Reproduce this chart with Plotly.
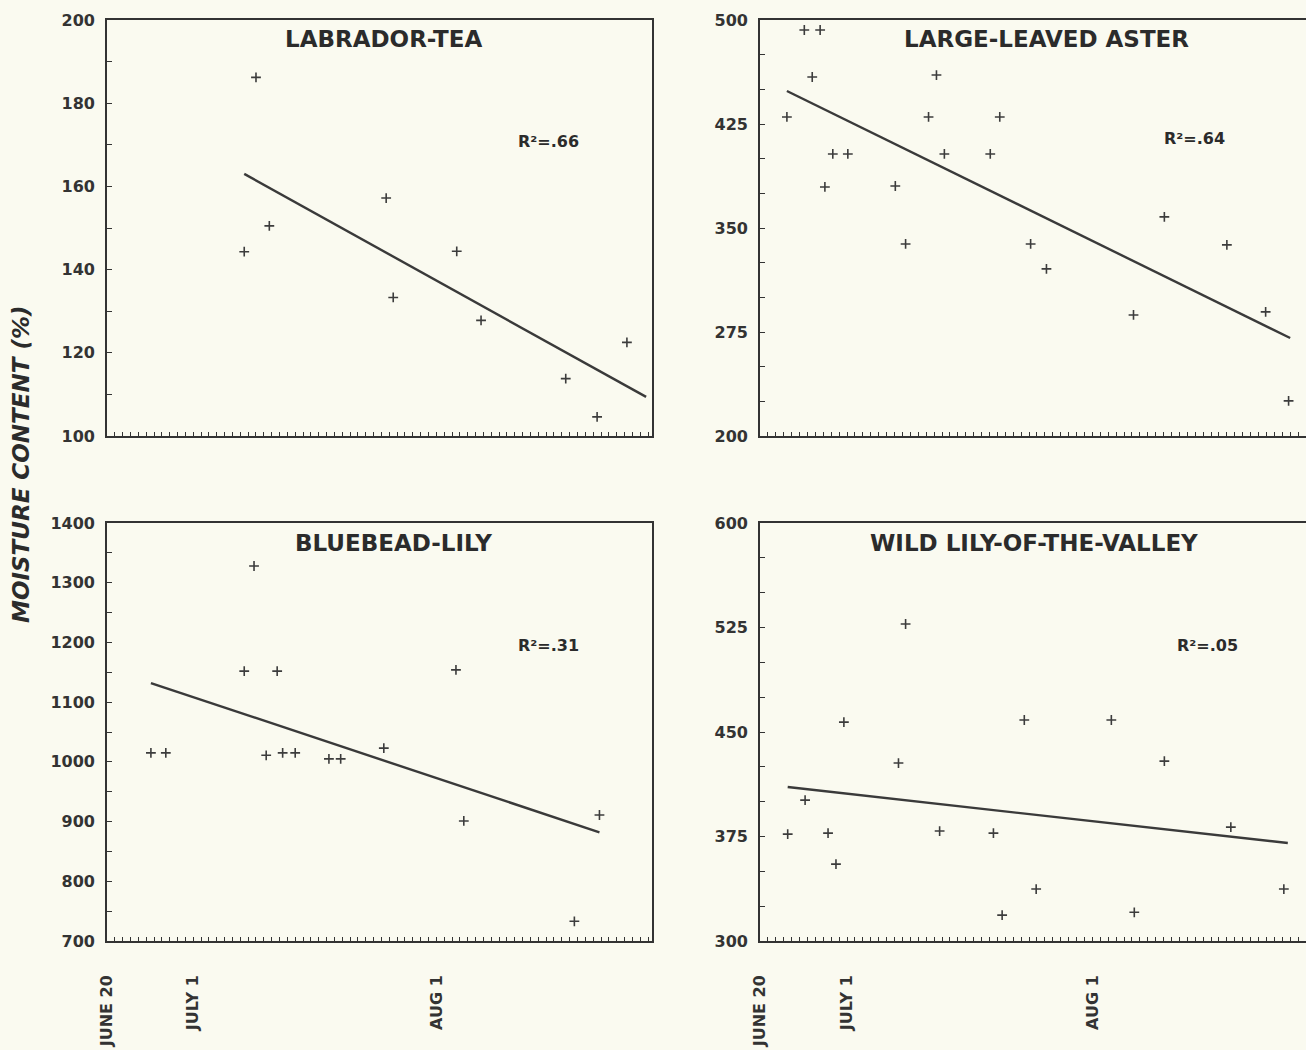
import plotly.graph_objects as go

# Days counted from June 20 (0 = June 20, 11 = July 1, 42 = Aug 1)
tick_days = [0, 11, 42]
tick_names = ["JUNE 20", "JULY 1", "AUG 1"]

species = ["LABRADOR-TEA", "LARGE-LEAVED ASTER", "BLUEBEAD-LILY", "WILD LILY-OF-THE-VALLEY"]
r_squared = ["R²=.66", "R²=.64", "R²=.31", "R²=.05"]

labrador_days = [17.5, 19.0, 20.7, 35.6, 36.5, 44.6, 47.7, 58.5, 62.5, 66.3]
labrador_moisture = [144.3, 186.2, 150.5, 157.2, 133.3, 144.4, 127.8, 113.8, 104.6, 122.5]
labrador_fit_days = [17.5, 68.75]
labrador_fit_moisture = [163.0, 109.4]

aster_days = [3.4, 5.6, 7.6, 6.6, 8.2, 9.2, 11.1, 17.1, 18.4, 21.3, 22.3, 23.3,
              29.1, 30.3, 34.2, 36.2, 47.2, 51.1, 59.0, 63.9, 66.8]
aster_moisture = [430.1, 492.8, 492.8, 458.9, 379.6, 403.4, 403.4, 380.3, 338.5, 430.1, 460.3, 403.4,
                  403.4, 430.1, 338.5, 320.5, 287.3, 358.0, 337.8, 289.5, 225.3]
aster_fit_days = [3.4, 67.0]
aster_fit_moisture = [448.8, 270.7]

bluebead_days = [5.6, 7.5, 17.5, 18.75, 21.7, 20.3, 22.4, 24.0, 28.3, 29.8, 35.3, 44.5, 45.5, 59.6, 62.8]
bluebead_moisture = [1015, 1015, 1152, 1328, 1152, 1011, 1015, 1015, 1005, 1005, 1023, 1154, 901, 733, 911]
bluebead_fit_days = [5.6, 62.8]
bluebead_fit_moisture = [1132, 882]

lily_days = [3.5, 5.7, 8.6, 9.6, 10.6, 17.5, 18.4, 22.7, 29.5, 30.6, 33.4, 34.9,
             44.4, 47.3, 51.1, 59.5, 66.2]
lily_moisture = [376.7, 401.1, 377.4, 355.2, 457.1, 427.7, 527.5, 378.9, 377.4, 318.6, 458.6, 337.3,
                 458.6, 320.6, 429.1, 381.7, 337.3]
lily_fit_days = [3.5, 66.7]
lily_fit_moisture = [410.5, 370.3]

y_ranges = [[100, 200], [200, 500], [700, 1400], [300, 600]]
y_major = [20, 75, 100, 75]
y_minor = [10, 25, 50, 25]

panels = [
    (labrador_days, labrador_moisture, labrador_fit_days, labrador_fit_moisture),
    (aster_days, aster_moisture, aster_fit_days, aster_fit_moisture),
    (bluebead_days, bluebead_moisture, bluebead_fit_days, bluebead_fit_moisture),
    (lily_days, lily_moisture, lily_fit_days, lily_fit_moisture),
]

W, H = 1306, 1050
INK = "#333333"
BG = "#fafaf0"
FONT = "DejaVu Sans"

# panel boxes in pixels: (left, right, top, bottom)
boxes = [(107, 652, 20, 436), (760, 1306, 20, 436), (107, 652, 523, 941), (760, 1306, 523, 941)]
x_ranges = [[0, 69.5], [0, 69.0], [0, 69.5], [0, 69.0]]
title_pos = [(0.508, 0.955), (0.5256, 0.955), (0.526, 0.952), (0.502, 0.952)]
r2_pos = [(0.811, 0.709), (0.796, 0.714), (0.811, 0.708), (0.8205, 0.708)]

fig = go.Figure()
annotations = []

for i, (days, moist, fdays, fmoist) in enumerate(panels):
    n = "" if i == 0 else str(i + 1)
    xa, ya = "x" + n, "y" + n
    left, right, top, bottom = boxes[i]

    fig.add_trace(go.Scatter(
        x=fdays, y=fmoist, mode="lines", xaxis=xa, yaxis=ya,
        line=dict(color="#3a3a3a", width=2.4), showlegend=False, hoverinfo="skip"))
    fig.add_trace(go.Scatter(
        x=days, y=moist, mode="markers", xaxis=xa, yaxis=ya,
        marker=dict(symbol="cross-thin", size=7, line=dict(color="#3c3c3c", width=1.6)),
        showlegend=False))

    axis_line = dict(showline=True, linecolor=INK, linewidth=1.6, mirror=True,
                     showgrid=False, zeroline=False, automargin=False)
    fig.layout["xaxis" + n] = dict(
        domain=[left / W, min(right / W, 1.0)], range=x_ranges[i], anchor=ya,
        tickmode="array", tickvals=tick_days, ticktext=tick_names,
        showticklabels=(i >= 2), tickangle=-90, ticks="inside", ticklen=4,
        tickcolor=INK, tickwidth=1.3, ticklabelstandoff=26,
        tickfont=dict(family=FONT, size=16, color=INK, weight="bold"),
        minor=dict(dtick=1, tick0=0, ticks="inside", ticklen=4, tickcolor=INK, tickwidth=1.3),
        **axis_line)
    lo, hi = y_ranges[i]
    fig.layout["yaxis" + n] = dict(
        domain=[1 - bottom / H, 1 - top / H], range=y_ranges[i], anchor=xa,
        tick0=lo, dtick=y_major[i], ticks="inside", ticklen=5, tickcolor=INK, tickwidth=1.3,
        ticklabelstandoff=7,
        tickfont=dict(family=FONT, size=16, color=INK, weight="bold"),
        minor=dict(tick0=lo, dtick=y_minor[i], ticks="inside", ticklen=5, tickcolor=INK, tickwidth=1.3),
        **axis_line)

    annotations.append(dict(
        text=species[i], xref=xa + " domain", yref=ya + " domain",
        x=title_pos[i][0], y=title_pos[i][1],
        xanchor="center", yanchor="middle", showarrow=False,
        font=dict(family=FONT, size=23, color="#2b2b2b", weight="bold")))
    annotations.append(dict(
        text=r_squared[i], xref=xa + " domain", yref=ya + " domain",
        x=r2_pos[i][0], y=r2_pos[i][1], xanchor="center", yanchor="middle", showarrow=False,
        font=dict(family=FONT, size=16, color="#2b2b2b", weight="bold")))

annotations.append(dict(
    text="MOISTURE CONTENT (%)", xref="paper", yref="paper", x=21 / W, y=1 - 465 / H,
    xanchor="center", yanchor="middle", textangle=-90, showarrow=False,
    font=dict(family=FONT, size=23, color="#2b2b2b", weight="bold", style="italic")))

fig.update_layout(
    width=W, height=H, margin=dict(l=0, r=0, t=0, b=0),
    paper_bgcolor=BG, plot_bgcolor=BG, annotations=annotations, showlegend=False)

fig.write_html("out.html")
